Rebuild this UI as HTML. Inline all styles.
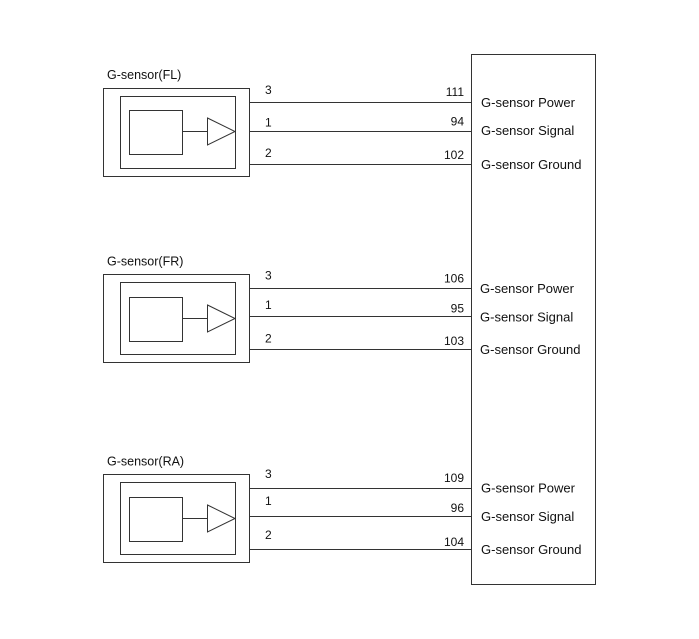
<!DOCTYPE html>
<html><head><meta charset="utf-8"><style>
html,body{margin:0;padding:0;background:#fff;}
svg{display:block;}
text{font-family:"Liberation Sans",Arial,sans-serif;fill:#111;}
</style></head><body>
<svg width="699" height="639" viewBox="0 0 699 639" xmlns="http://www.w3.org/2000/svg">
<g fill="none" stroke="#333" stroke-width="1">
<!-- ECU box -->
<rect x="471.5" y="54.5" width="124" height="530"/>
<!-- FL -->
<rect x="103.5" y="88.5" width="146" height="88"/>
<rect x="120.5" y="96.5" width="115" height="72"/>
<rect x="129.5" y="110.5" width="53" height="44"/>
<line x1="183" y1="131.5" x2="207" y2="131.5"/>
<polygon points="207.5,118 235,131.5 207.5,145"/>
<line x1="249" y1="102.5" x2="472" y2="102.5"/>
<line x1="249" y1="131.5" x2="472" y2="131.5"/>
<line x1="249" y1="164.5" x2="472" y2="164.5"/>
<!-- FR -->
<rect x="103.5" y="274.5" width="146" height="88"/>
<rect x="120.5" y="282.5" width="115" height="72"/>
<rect x="129.5" y="297.5" width="53" height="44"/>
<line x1="183" y1="318.5" x2="207" y2="318.5"/>
<polygon points="207.5,305 235,318.5 207.5,332"/>
<line x1="249" y1="288.5" x2="472" y2="288.5"/>
<line x1="249" y1="316.5" x2="472" y2="316.5"/>
<line x1="249" y1="349.5" x2="472" y2="349.5"/>
<!-- RA -->
<rect x="103.5" y="474.5" width="146" height="88"/>
<rect x="120.5" y="482.5" width="115" height="72"/>
<rect x="129.5" y="497.5" width="53" height="44"/>
<line x1="183" y1="518.5" x2="207" y2="518.5"/>
<polygon points="207.5,505 235,518.5 207.5,532"/>
<line x1="249" y1="488.5" x2="472" y2="488.5"/>
<line x1="249" y1="516.5" x2="472" y2="516.5"/>
<line x1="249" y1="549.5" x2="472" y2="549.5"/>
</g>
<g font-size="12.5">
<text x="107" y="79">G-sensor(FL)</text>
<text x="107" y="265.5">G-sensor(FR)</text>
<text x="107" y="465.5">G-sensor(RA)</text>
</g>
<g font-size="12">
<text x="265" y="94">3</text>
<text x="265" y="126.5">1</text>
<text x="265" y="157">2</text>
<text x="265" y="279.5">3</text>
<text x="265" y="309">1</text>
<text x="265" y="342.5">2</text>
<text x="265" y="478">3</text>
<text x="265" y="505">1</text>
<text x="265" y="539">2</text>
</g>
<g font-size="12" text-anchor="end">
<text x="464" y="96">111</text>
<text x="464" y="125.5">94</text>
<text x="464" y="159">102</text>
<text x="464" y="282.5">106</text>
<text x="464" y="312.5">95</text>
<text x="464" y="345">103</text>
<text x="464" y="482">109</text>
<text x="464" y="512">96</text>
<text x="464" y="546">104</text>
</g>
<g font-size="13">
<text x="481" y="107">G-sensor Power</text>
<text x="481" y="135">G-sensor Signal</text>
<text x="481" y="169">G-sensor Ground</text>
<text x="480" y="293">G-sensor Power</text>
<text x="480" y="321.5">G-sensor Signal</text>
<text x="480" y="354">G-sensor Ground</text>
<text x="481" y="492.5">G-sensor Power</text>
<text x="481" y="521">G-sensor Signal</text>
<text x="481" y="554">G-sensor Ground</text>
</g>
</svg>
</body></html>
